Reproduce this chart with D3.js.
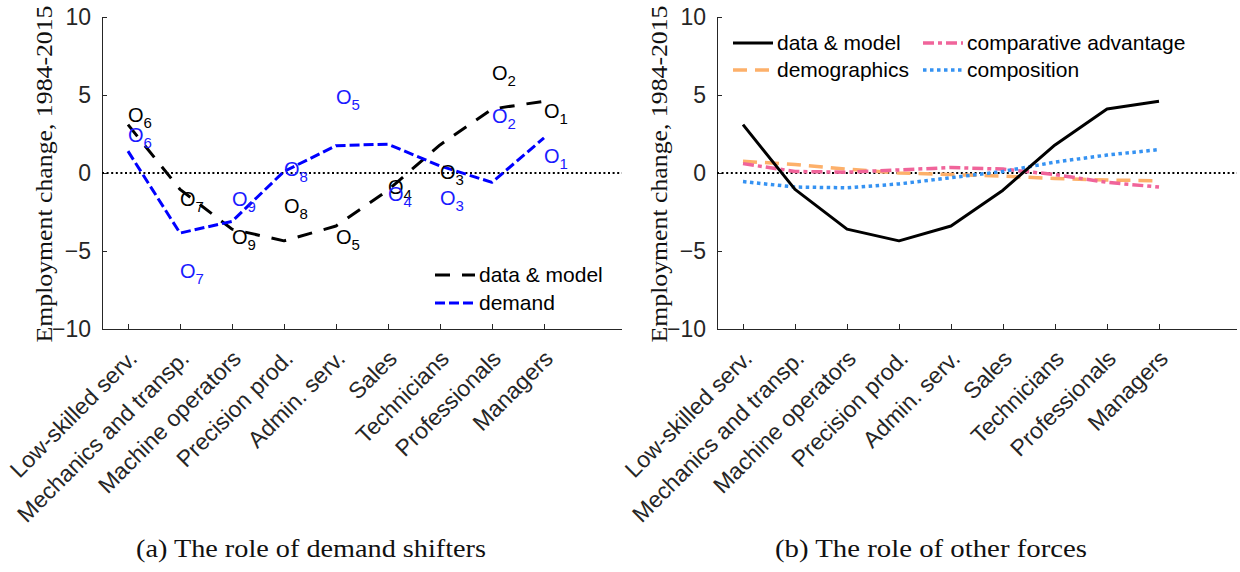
<!DOCTYPE html>
<html>
<head>
<meta charset="utf-8">
<script src="https://cdn.jsdelivr.net/npm/d3@7"></script>
<style>
  html, body { margin: 0; padding: 0; background: #fff; }
  svg { display: block; }
</style>
</head>
<body>
<svg id="chart" width="1240" height="572"></svg>
<script>
// Occupations, ordered from low-skilled to high-skilled
const categories = [
  "Low-skilled serv.", "Mechanics and transp.", "Machine operators",
  "Precision prod.", "Admin. serv.", "Sales", "Technicians",
  "Professionals", "Managers"
];
// Occupation rank shown as subscript of each O marker
const ranks = ["6", "7", "9", "8", "5", "4", "3", "2", "1"];

// Employment change, 1984-2015 (percentage points)
const dataModel    = [3.1, -1.05, -3.6, -4.35, -3.4, -1.1, 1.8, 4.1, 4.6];
const demand       = [1.4, -3.85, -3.1, 0.1, 1.75, 1.85, 0.45, -0.6, 2.25];
const demographics = [0.75, 0.55, 0.25, 0.0, -0.1, -0.2, -0.35, -0.45, -0.5];
const compAdv      = [0.6, 0.1, 0.05, 0.2, 0.35, 0.25, -0.1, -0.6, -0.9];
const composition  = [-0.55, -0.9, -0.95, -0.7, -0.3, 0.1, 0.7, 1.15, 1.5];

// Positions of the O markers
const markerData   = [3.7, -1.67, -4.1, -2.1, -4.1, -0.9, 0.05, 6.4, 4.0];
const markerDemand = [2.45, -6.3, -1.67, 0.25, 4.9, -1.35, -1.6, 3.65, 1.1];

const yTicks = [-10, -5, 0, 5, 10];
const yLabel = "Employment change, 1984-2015";
const captions = ["(a) The role of demand shifters", "(b) The role of other forces"];

const svg = d3.select("#chart");
const SANS = "'Liberation Sans', Arial, Helvetica, sans-serif";
const SERIF = "'Liberation Serif', 'Times New Roman', serif";
const AXIS = "#262626";

const plotTop = 17, plotBottom = 329;
const y = d3.scaleLinear().domain([-10, 10]).range([plotBottom, plotTop]);

function panel(left, right) {
  const x = d3.scaleLinear().domain([0.5, 10.5]).range([left, right]);
  const g = svg.append("g");

  // y axis, ticks pointing inward
  const ya = g.append("g").attr("transform", `translate(${left},0)`)
    .call(d3.axisLeft(y).tickValues(yTicks).tickSizeInner(-5).tickSizeOuter(0).tickPadding(11)
      .tickFormat(d3.format("d")));
  ya.select(".domain").attr("stroke", AXIS).attr("stroke-width", 1);
  ya.selectAll(".tick line").attr("stroke", AXIS);
  ya.selectAll(".tick text").attr("font-family", SANS).attr("font-size", 23).attr("fill", AXIS);

  // x axis, ticks pointing inward, rotated category labels
  const xa = g.append("g").attr("transform", `translate(0,${plotBottom})`)
    .call(d3.axisBottom(x).tickValues(d3.range(1, 10)).tickSizeInner(-5).tickSizeOuter(0)
      .tickFormat(i => categories[i - 1]));
  xa.select(".domain").attr("stroke", AXIS).attr("stroke-width", 1)
    .attr("d", `M${left},0.5H${right}`);
  xa.selectAll(".tick line").attr("stroke", AXIS);
  xa.selectAll(".tick text")
    .attr("font-family", SANS).attr("font-size", 23).attr("fill", AXIS)
    .attr("text-anchor", "end").attr("dy", null).attr("y", 0)
    .attr("transform", "translate(10,31) rotate(-45)");

  // y label
  g.append("text")
    .attr("transform", `translate(${left - 50},${(plotTop + plotBottom) / 2 + 1}) rotate(-90)`)
    .attr("text-anchor", "middle")
    .attr("font-family", SERIF).attr("font-size", 23).attr("fill", "#111")
    .attr("textLength", 337).attr("lengthAdjust", "spacingAndGlyphs")
    .text(yLabel);

  // zero reference line
  g.append("line")
    .attr("x1", left).attr("x2", right).attr("y1", y(0)).attr("y2", y(0))
    .attr("stroke", "#000").attr("stroke-width", 2).attr("stroke-dasharray", "2,2.6");

  return { g, x };
}

function series(p, values, style) {
  const line = d3.line().x((d, i) => p.x(i + 1)).y(d => y(d));
  p.g.append("path").datum(values)
    .attr("d", line)
    .attr("fill", "none")
    .attr("stroke", style.color)
    .attr("stroke-width", style.width)
    .attr("stroke-dasharray", style.dash || null)
    .attr("stroke-linecap", style.cap || "butt")
    .attr("stroke-linejoin", "round");
}

function legendItem(p, x0, yy, label, style) {
  p.g.append("line")
    .attr("x1", x0).attr("x2", x0 + 40).attr("y1", yy).attr("y2", yy)
    .attr("stroke", style.color).attr("stroke-width", style.width)
    .attr("stroke-dasharray", style.dash || null)
    .attr("stroke-linecap", style.cap || "butt");
  p.g.append("text")
    .attr("x", x0 + 44).attr("y", yy).attr("dy", "0.35em")
    .attr("font-family", SANS).attr("font-size", 21).attr("fill", "#000")
    .text(label);
}

function markers(p, values, color) {
  const t = p.g.selectAll(null).data(values).enter().append("text")
    .attr("x", (d, i) => p.x(i + 1))
    .attr("y", d => y(d) + 7)
    .attr("font-family", SANS).attr("font-size", 20).attr("fill", color);
  t.append("tspan").text("O");
  t.append("tspan").attr("font-size", 15).attr("dy", 6).text((d, i) => ranks[i]);
}

// ---- Panel (a): demand shifters ----
const A = panel(102, 622);
const styleDM = { color: "#000", width: 3, dash: "15,12" };
const styleDemand = { color: "#0000ff", width: 3, dash: "10,4" };
series(A, dataModel, styleDM);
series(A, demand, styleDemand);
markers(A, markerData, "#000");
markers(A, markerDemand, "#1a1aff");
legendItem(A, 435, 275, "data & model", styleDM);
legendItem(A, 435, 303, "demand", styleDemand);

// ---- Panel (b): other forces ----
const B = panel(717, 1237);
const styleSolid = { color: "#000", width: 3 };
const styleDemo = { color: "#fdb06a", width: 3.5, dash: "14,8" };
const styleComp = { color: "#f0649a", width: 3.5, dash: "11,4,4,4" };
const styleCompo = { color: "#3592f2", width: 3.5, dash: "3.5,3.5" };
series(B, demographics, styleDemo);
series(B, compAdv, styleComp);
series(B, composition, styleCompo);
series(B, dataModel, styleSolid);
legendItem(B, 733, 43, "data & model", styleSolid);
legendItem(B, 733, 70, "demographics", styleDemo);
legendItem(B, 923, 43, "comparative advantage", styleComp);
legendItem(B, 923, 70, "composition", styleCompo);

// ---- Captions ----
[[311, captions[0], 350], [931, captions[1], 312]].forEach(([cx, txt, len]) => {
  svg.append("text")
    .attr("x", cx).attr("y", 557).attr("text-anchor", "middle")
    .attr("font-family", SERIF).attr("font-size", 25).attr("fill", "#111")
    .attr("textLength", len).attr("lengthAdjust", "spacingAndGlyphs")
    .text(txt);
});
</script>
</body>
</html>
